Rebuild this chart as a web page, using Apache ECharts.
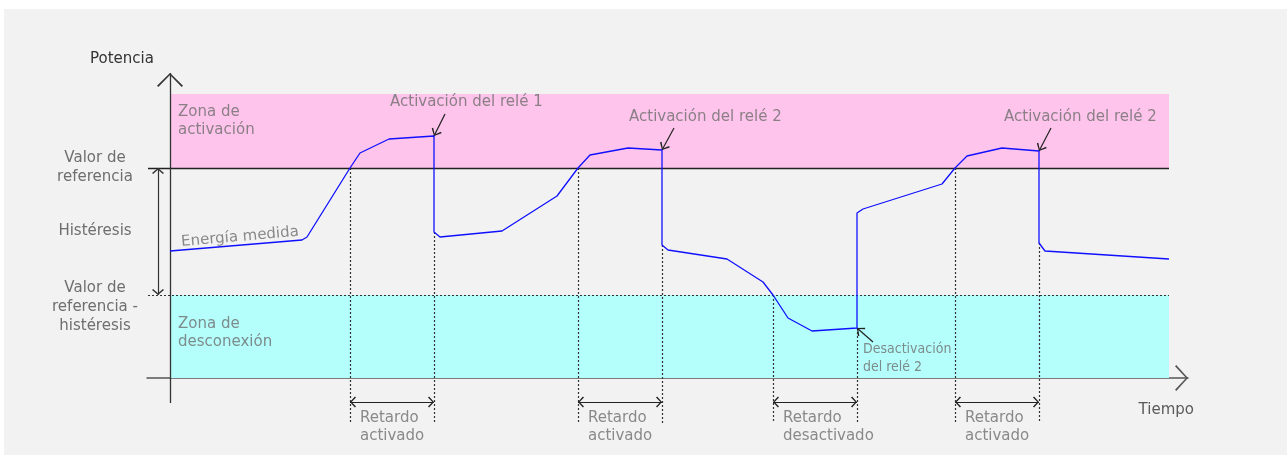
<!DOCTYPE html>
<html><head><meta charset="utf-8">
<script src="https://cdn.jsdelivr.net/npm/echarts@6/dist/echarts.min.js"></script>
<style>
html,body{margin:0;padding:0;background:#fff;}
#panel{position:absolute;left:4px;top:9px;width:1283px;height:446px;background:#f2f2f2;}
#chart{position:absolute;left:0;top:0;width:1287px;height:455px;}
</style></head><body>
<div id="panel"></div><div id="chart"></div>
<script>
// ---- data ----
const timeValues  = [0,132,137,180,190,219,264,264,270,332,387,408,420,458,492,492,498,557,593,603,618,642,687,687,693,772,785,797,832,869,869,875,999];
const powerValues = [127,138,141,210,225,239,242,146,141,147,182,210,223,230,228,133,128,119,96,83,60,47,50,165,169,194,210,222,230,227,135,127,119];
const referenceValue = 210;
const referenceMinusHysteresis = 83;
const activationZoneTop = 284;
const timeEnd = 999;
const delayStarts = [180,408,603,785];
const delayEnds   = [264,492,687,869];
const delayLabels = ['Retardo\nactivado','Retardo\nactivado','Retardo\ndesactivado','Retardo\nactivado'];
const relayEventTimes  = [264,492,687,869];
const relayEventLabels = ['Activación del relé 1','Activación del relé 2','Desactivación\ndel relé 2','Activación del relé 2'];
const yTickLabels = ['Valor de\nreferencia','Histéresis','Valor de\nreferencia -\nhistéresis'];
const zoneLabels = ['Zona de\nactivación','Zona de\ndesconexión'];
const seriesLabel = 'Energía medida';
const axisNames = ['Tiempo','Potencia'];

// ---- layout / style ----
const FONT = '"DejaVu Sans", sans-serif';
const FONT_COND = '"DejaVu Sans Condensed", "DejaVu Sans", sans-serif';
const GREY = '#6e6e6e';
const annotationLayout = [
  {text:[-44, 34], tail:[11,22]},
  {text:[-33, 33], tail:[12,22]},
  {text:[6, -30],  tail:[16,-14], condensed:true},
  {text:[-35, 34], tail:[12,23]}
];
function chevron(w, h, t) {
  return 'path://M' + (w/2) + ',0 L' + w + ',' + (h - t) + ' L' + (w - t) + ',' + h +
    ' L' + (w/2) + ',' + (t * 1.5) + ' L' + t + ',' + h + ' L0,' + (h - t) + ' Z';
}
function both(v) { return [v, v]; }
const valuesAt = t => powerValues.filter((v, i) => timeValues[i] === t);
const firstValueAt = t => powerValues[timeValues.indexOf(t)];
const lowValueAt = t => Math.min.apply(null, valuesAt(t));

const lineData = timeValues.map((t, i) => [t, powerValues[i]]);
const yLabelValues = [referenceValue, (referenceValue + referenceMinusHysteresis) / 2, referenceMinusHysteresis - 12];

const guideBottom = -45;
const delayArrowY = -24;
const delayLabelY = -49.5;
const X_MAX = 1018;

const eventTimes = delayStarts.concat(delayEnds);

const textData = [];
textData.push({value:[70, 141], label:{formatter: seriesLabel, align:'center', rotate:5}});
textData.push({value:[8, 257], label:{formatter: zoneLabels[0], align:'left'}});
textData.push({value:[8, 44.5], label:{formatter: zoneLabels[1], align:'left'}});
textData.push({value:[X_MAX, -32], label:{formatter: axisNames[0], align:'right', color:'#333', offset:[6,0]}});
delayStarts.forEach((s, i) => textData.push({value:[s + 10, delayLabelY], label:{formatter: delayLabels[i], align:'left'}}));
relayEventTimes.forEach((t, i) => {
  const L = annotationLayout[i];
  const lab = {formatter: relayEventLabels[i], align:'left'};
  if (L.condensed) { lab.fontFamily = FONT_COND; lab.fontSize = 14; lab.lineHeight = 18; }
  textData.push({value:[t + L.text[0], firstValueAt(t) + L.text[1]], label: lab});
});

const noLabel = {show:false};
const option = {
  animation: false,
  backgroundColor: 'transparent',
  grid: {left:147, right:99, top:73, bottom:2, containLabel:false},
  xAxis: {
    type:'value', min:-23, max:X_MAX,
    axisLine:{show:true, onZero:true, lineStyle:{color:'#555', width:1.5},
      symbol:['none', chevron(26,13,1.3)], symbolSize:[26,13], symbolOffset:[0,-6.5]},
    axisTick:{show:false}, axisLabel:{show:false}, splitLine:{show:false}
  },
  yAxis: {
    type:'value', min:-75, max:305,
    name: axisNames[1], nameLocation:'end', nameGap:14,
    nameTextStyle:{fontFamily:FONT, fontSize:15, color:'#333', align:'center', verticalAlign:'middle', padding:[0,50,0,0]},
    axisLine:{show:false, onZero:false},
    axisTick:{show:false}, splitLine:{show:false},
    axisLabel:{show:true, customValues: yLabelValues, margin:52, align:'center',
      fontFamily:FONT, fontSize:15, color:GREY, lineHeight:19,
      formatter: v => yTickLabels[yLabelValues.indexOf(v)] || ''}
  },
  series: [
    { // zones
      type:'line', data:[], silent:true,
      markArea:{silent:true, label:noLabel, data:[
        [{coord:[0, referenceValue], itemStyle:{color:'#fec4eb'}}, {coord:[timeEnd, activationZoneTop]}],
        [{coord:[0, 0], itemStyle:{color:'#b4fffc'}}, {coord:[timeEnd, referenceMinusHysteresis]}]
      ]}
    },
    { // reference lines
      type:'line', data:[], silent:true,
      markLine:{silent:true, symbol:['none','none'], label:noLabel, data:[
        [{coord:[-22, referenceValue], lineStyle:{color:'#222', width:1.3, type:'solid'}}, {coord:[timeEnd, referenceValue]}],
        [{coord:[-22, referenceMinusHysteresis], lineStyle:{color:'#333', width:1, type:[2,2]}}, {coord:[timeEnd, referenceMinusHysteresis]}]
      ]}
    },
    { // delay guides (dotted verticals)
      type:'line', data:[], silent:true,
      markLine:{silent:true, symbol:['none','none'], label:noLabel,
        lineStyle:{color:'#333', width:1.2, type:[2,2]},
        data: eventTimes.map(t => [{coord:[t, lowValueAt(t)]}, {coord:[t, guideBottom]}])}
    },
    { // y axis
      type:'line', data:[], silent:true,
      markLine:{silent:true, label:noLabel, symbol:['none', chevron(26,14,1.3)],
        symbolSize:[26,14], symbolOffset:both([0,7]),
        lineStyle:{color:'#333', width:1.3, type:'solid'},
        data:[[{coord:[0,-25]}, {coord:[0,305]}]]}
    },
    { // hysteresis double arrow
      type:'line', data:[], silent:true,
      markLine:{silent:true, label:noLabel, symbol:both(chevron(12,6,1.1)),
        symbolSize:[12,6], symbolOffset:both([0,3]),
        lineStyle:{color:'#333', width:1.2, type:'solid'},
        data:[[{coord:[-12, referenceValue]}, {coord:[-12, referenceMinusHysteresis]}]]}
    },
    { // delay double arrows
      type:'line', data:[], silent:true,
      markLine:{silent:true, label:noLabel, symbol:both(chevron(11,6,1.1)),
        symbolSize:[11,6], symbolOffset:both([0,3]),
        lineStyle:{color:'#222', width:1.2, type:'solid'},
        data: delayStarts.map((s, i) => [{coord:[s, delayArrowY]}, {coord:[delayEnds[i], delayArrowY]}])}
    },
    { // annotation arrows
      type:'line', data:[], silent:true,
      markLine:{silent:true, label:noLabel, symbol:['none', chevron(11,7,1.1)],
        symbolSize:[11,7], symbolOffset:both([0,3.5]),
        lineStyle:{color:'#222', width:1.2, type:'solid'},
        data: relayEventTimes.map((t, i) => {
          const L = annotationLayout[i], v = firstValueAt(t);
          return [{coord:[t + L.tail[0], v + L.tail[1]]}, {coord:[t, v]}];
        })}
    },
    { // measured energy
      name: seriesLabel, type:'line', data: lineData, showSymbol:false, silent:true, z:5,
      lineStyle:{color:'#1010ff', width:1.3}
    },
    { // texts
      type:'scatter', data:textData, symbolSize:0.01, silent:true, z:6, clip:false,
      itemStyle:{color:'rgba(0,0,0,0)'},
      label:{show:true, position:'inside', verticalAlign:'middle', fontFamily:FONT, fontSize:15, color:GREY, lineHeight:18}
    }
  ]
};
const chart = echarts.init(document.getElementById('chart'), null, {renderer:'canvas'});
chart.setOption(option);
</script>
</body></html>
